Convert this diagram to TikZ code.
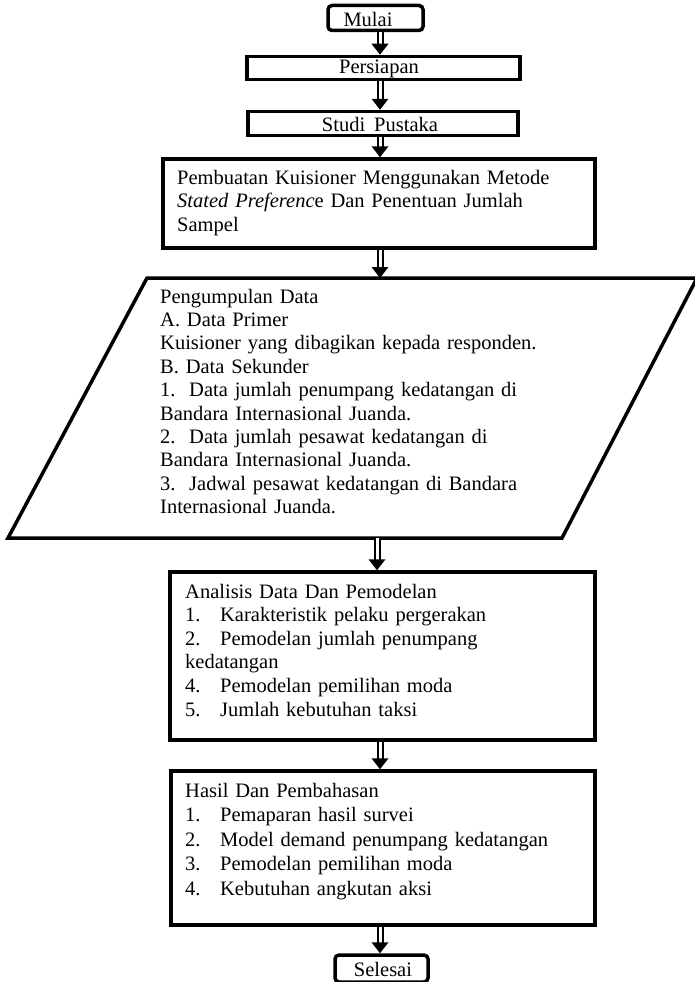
\documentclass[tikz,border=0pt]{standalone}
\usepackage{fontspec}
\setmainfont{Liberation Serif}[WordSpace=1.75]
\usetikzlibrary{calc}
\tikzset{
  box/.style={draw, line width=3.5pt, inner sep=0pt},
  rbox/.style={box, rounded corners=4pt},
  lbl/.style={inner sep=0pt, font=\fontsize{20.5}{23.5}\selectfont},
  txt/.style={anchor=base west, inner sep=0pt, text width=#1, align=left},
  shaft/.style={double=white, double distance=3pt, line width=2pt},
}
\newcommand\dbl[2]{%
  \draw[shaft] (#1) -- ($(#2)+(0,-10)$);
  \fill (#2) -- ++(-8.5,-11) -- ++(17,0) -- cycle;}
\newcommand\itm[1]{\makebox[35pt][l]{#1}}
\begin{document}
\begin{tikzpicture}[x=1pt,y=-1pt]
\useasboundingbox (0,0) rectangle (695,982);
% boxes
\node[rbox, minimum width=95pt, minimum height=25pt] (mulai) at (375.5,18) {};
\node[lbl] at (368,19) {Mulai};
\node[box, minimum width=273pt, minimum height=23pt] (pers) at (383.5,68) {};
\node[lbl] at (379,68.5) {Persiapan};
\node[box, minimum width=270pt, minimum height=24pt] (studi) at (383,123.5) {};
\node[lbl] at (380,124) {Studi Pustaka};
\node[box, minimum width=432pt, minimum height=89pt] (buat) at (379,203.5) {};
\node[lbl, txt=410pt] (tbuat) at (177,184) {\makebox[385pt][s]{Pembuatan Kuisioner Menggunakan Metode}\\
\textit{Stated Preferenc}e Dan Penentuan Jumlah\\
Sampel};
% parallelogram
\draw[box] (147,278) -- (697,278) -- (562,538) -- (8,538) -- cycle;
\coordinate (ptop) at (380,278);
\coordinate (pbot) at (377,538);
\node[inner sep=0pt, txt=420pt, font=\fontsize{20.5}{23.4}\selectfont] (tdata) at (160,303) {Pengumpulan Data\\
A. Data Primer\\
Kuisioner yang dibagikan kepada responden.\\
B. Data Sekunder\\
1.\ \ Data jumlah penumpang kedatangan di\\
Bandara Internasional Juanda.\\
2.\ \ Data jumlah pesawat kedatangan di\\
Bandara Internasional Juanda.\\
3.\ \ Jadwal pesawat kedatangan di Bandara\\
Internasional Juanda.};
\node[box, minimum width=425pt, minimum height=168pt] (anal) at (382.5,656) {};
\node[inner sep=0pt, txt=400pt, font=\fontsize{20.5}{23.6}\selectfont] (tanal) at (185,598) {Analisis Data Dan Pemodelan\\
\itm{1.}Karakteristik pelaku pergerakan\\
\itm{2.}Pemodelan jumlah penumpang\\
kedatangan\\
\itm{4.}Pemodelan pemilihan moda\\
\itm{5.}Jumlah kebutuhan taksi};
\node[box, minimum width=424pt, minimum height=154pt] (hasil) at (383,848) {};
\node[inner sep=0pt, txt=400pt, font=\fontsize{20.5}{24.5}\selectfont] (thasil) at (185,797) {Hasil Dan Pembahasan\\
\itm{1.}Pemaparan hasil survei\\
\itm{2.}Model demand penumpang kedatangan\\
\itm{3.}Pemodelan pemilihan moda\\
\itm{4.}Kebutuhan angkutan aksi};
\node[rbox, minimum width=93pt, minimum height=27pt] (selesai) at (381.5,968.5) {};
\node[lbl] at (383,969.5) {Selesai};
% arrows
\coordinate (ax) at (380,0);
\coordinate (axb) at (377,0);
\path (mulai.south -| ax) coordinate (a1s) (pers.north -| ax) coordinate (a1e);
\path (pers.south -| ax) coordinate (a2s) (studi.north -| ax) coordinate (a2e);
\path (studi.south -| ax) coordinate (a3s) (buat.north -| ax) coordinate (a3e);
\path (buat.south -| ax) coordinate (a4s) (ptop) coordinate (a4e);
\path (pbot) coordinate (a5s) (anal.north -| axb) coordinate (a5e);
\path (anal.south -| ax) coordinate (a6s) (hasil.north -| ax) coordinate (a6e);
\path (hasil.south -| ax) coordinate (a7s) (selesai.north -| ax) coordinate (a7e);
\dbl{a1s}{a1e}
\dbl{a2s}{a2e}
\dbl{a3s}{a3e}
\dbl{a4s}{a4e}
\dbl{a5s}{a5e}
\dbl{a6s}{a6e}
\dbl{a7s}{a7e}
\end{tikzpicture}
\end{document}
